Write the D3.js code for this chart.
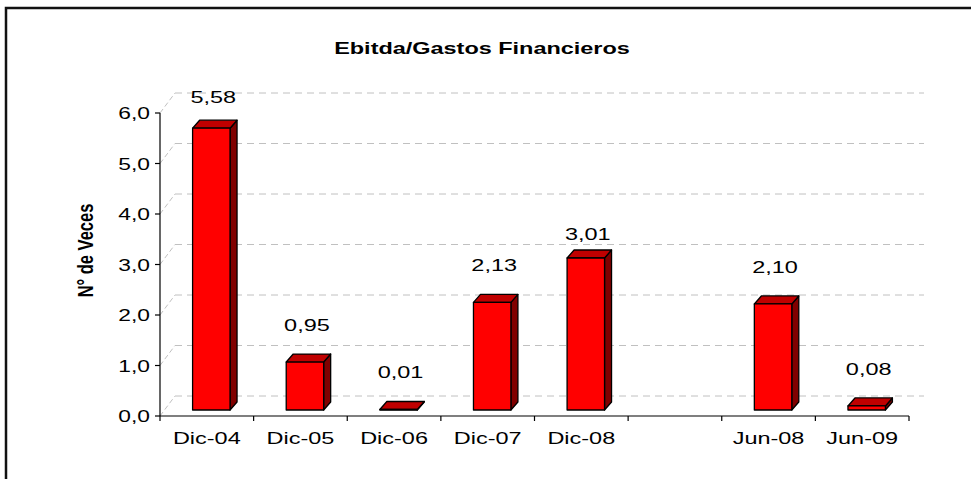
<!DOCTYPE html>
<html>
<head>
<meta charset="utf-8">
<script src="https://cdn.jsdelivr.net/npm/d3@7"></script>
<style>
  body { margin: 0; background: #fff; }
  text { font-family: Arial, "Liberation Sans", sans-serif; fill: #000; }
</style>
</head>
<body>
<div id="chart"></div>
<script>
// data
const categories = ["Dic-04", "Dic-05", "Dic-06", "Dic-07", "Dic-08", " ", "Jun-08", "Jun-09"]
const values = [5.58, 0.95, 0.01, 2.13, 3.01, null, 2.10, 0.08]
const yTicks = [0, 1, 2, 3, 4, 5, 6]
const title = "Ebitda/Gastos Financieros"
const yTitle = "N° de Veces"

const WIDTH = 971
const HEIGHT = 479
const SX = 1.38 // the picture is stretched sideways

// oblique 3D offsets
const WALL = { dx: 15, dy: -20 }
const BAR_FRONT = { dx: 4.5, dy: -6 }
const BAR_DEPTH = { dx: 7, dy: -8 }

const svg = d3.select("#chart")
  .append("svg")
  .attr("width", WIDTH)
  .attr("height", HEIGHT)

// outer frame (right and bottom fall outside the picture)
svg.append("rect")
  .attr("x", 6)
  .attr("y", 8)
  .attr("width", WIDTH + 20)
  .attr("height", HEIGHT + 20)
  .attr("fill", "none")
  .attr("stroke", "#111")
  .attr("stroke-width", 2.5)

const x = d3.scaleBand()
  .domain(categories)
  .range([160, 909])
  .paddingInner(0.6)
  .paddingOuter(0.3)

const y = d3.scaleLinear()
  .domain([0, 6])
  .range([416, 113])

const comma = (f) => (v) => d3.format(f)(v).replace(".", ",")

const stretched = (g, tx, ty, extra) =>
  g.append("text")
    .attr("transform", `translate(${tx},${ty}) scale(${SX},1)` + (extra || ""))

// back wall gridlines + side diagonals
const grid = svg.append("g")
  .attr("stroke", "#c0c0c0")
  .attr("stroke-width", 1)
  .attr("stroke-dasharray", "7,5")
  .attr("fill", "none")

yTicks.forEach((t) => {
  grid.append("line")
    .attr("x1", 160 + WALL.dx)
    .attr("x2", 909 + WALL.dx)
    .attr("y1", y(t) + WALL.dy)
    .attr("y2", y(t) + WALL.dy)
  grid.append("line")
    .attr("x1", 160)
    .attr("x2", 160 + WALL.dx)
    .attr("y1", y(t))
    .attr("y2", y(t) + WALL.dy)
    .attr("stroke-dasharray", "5,3")
})

// axes
const axes = svg.append("g").attr("stroke", "#000").attr("stroke-width", 1.2)
axes.append("line").attr("x1", 160).attr("x2", 160).attr("y1", y(6)).attr("y2", y(0))
axes.append("line").attr("x1", 160).attr("x2", 909).attr("y1", y(0)).attr("y2", y(0))
yTicks.forEach((t) => {
  axes.append("line").attr("x1", 155).attr("x2", 160).attr("y1", y(t)).attr("y2", y(t))
})
d3.range(categories.length + 1).forEach((i) => {
  const xx = 160 + i * x.step()
  axes.append("line").attr("x1", xx).attr("x2", xx).attr("y1", y(0)).attr("y2", y(0) + 5)
})

const yFmt = comma(".1f")
yTicks.forEach((t) => {
  stretched(svg, 150, y(t) + 6)
    .attr("text-anchor", "end")
    .attr("font-size", 16.5)
    .text(yFmt(t))
})

categories.forEach((c) => {
  stretched(svg, x(c) + x.bandwidth() / 2, 444)
    .attr("text-anchor", "middle")
    .attr("font-size", 17)
    .text(c.trim())
})

// bars
const yBar = (v) => y(v) + BAR_FRONT.dy
const bars = svg.append("g")
  .attr("stroke", "#000")
  .attr("stroke-width", 1.3)
  .attr("stroke-linejoin", "round")

const rows = categories.map((c, i) => ({ c, v: values[i] })).filter((d) => d.v != null)

rows.forEach((d) => {
  const x0 = x(d.c) + BAR_FRONT.dx
  const x1 = x0 + x.bandwidth()
  const yt = yBar(d.v)
  const yb = yBar(0)
  const dx = BAR_DEPTH.dx
  const dy = BAR_DEPTH.dy
  bars.append("path")
    .attr("d", `M${x1},${yt}L${x1 + dx},${yt + dy}L${x1 + dx},${yb + dy}L${x1},${yb}Z`)
    .attr("fill", "#800000")
  bars.append("path")
    .attr("d", `M${x0},${yt}L${x0 + dx},${yt + dy}L${x1 + dx},${yt + dy}L${x1},${yt}Z`)
    .attr("fill", "#c00000")
  bars.append("rect")
    .attr("x", x0)
    .attr("y", yt)
    .attr("width", x.bandwidth())
    .attr("height", Math.max(0, yb - yt))
    .attr("fill", "#ff0000")
})

// value labels
const labelNudge = { "Dic-04": 6, "Dic-08": 13 }
const vFmt = comma(".2f")
rows.forEach((d) => {
  stretched(svg, x(d.c) + BAR_FRONT.dx + x.bandwidth() / 2 + 2, yBar(d.v) - 31 + (labelNudge[d.c] || 0))
    .attr("text-anchor", "middle")
    .attr("font-size", 17)
    .text(vFmt(d.v))
})

// titles
stretched(svg, 482, 54)
  .attr("text-anchor", "middle")
  .attr("font-size", 17)
  .attr("font-weight", "bold")
  .text(title)

svg.append("text")
  .attr("transform", `translate(93,250.5) scale(${SX},1) rotate(-90)`)
  .attr("text-anchor", "middle")
  .attr("font-size", 16.5)
  .attr("font-weight", "bold")
  .text(yTitle)
</script>
</body>
</html>
